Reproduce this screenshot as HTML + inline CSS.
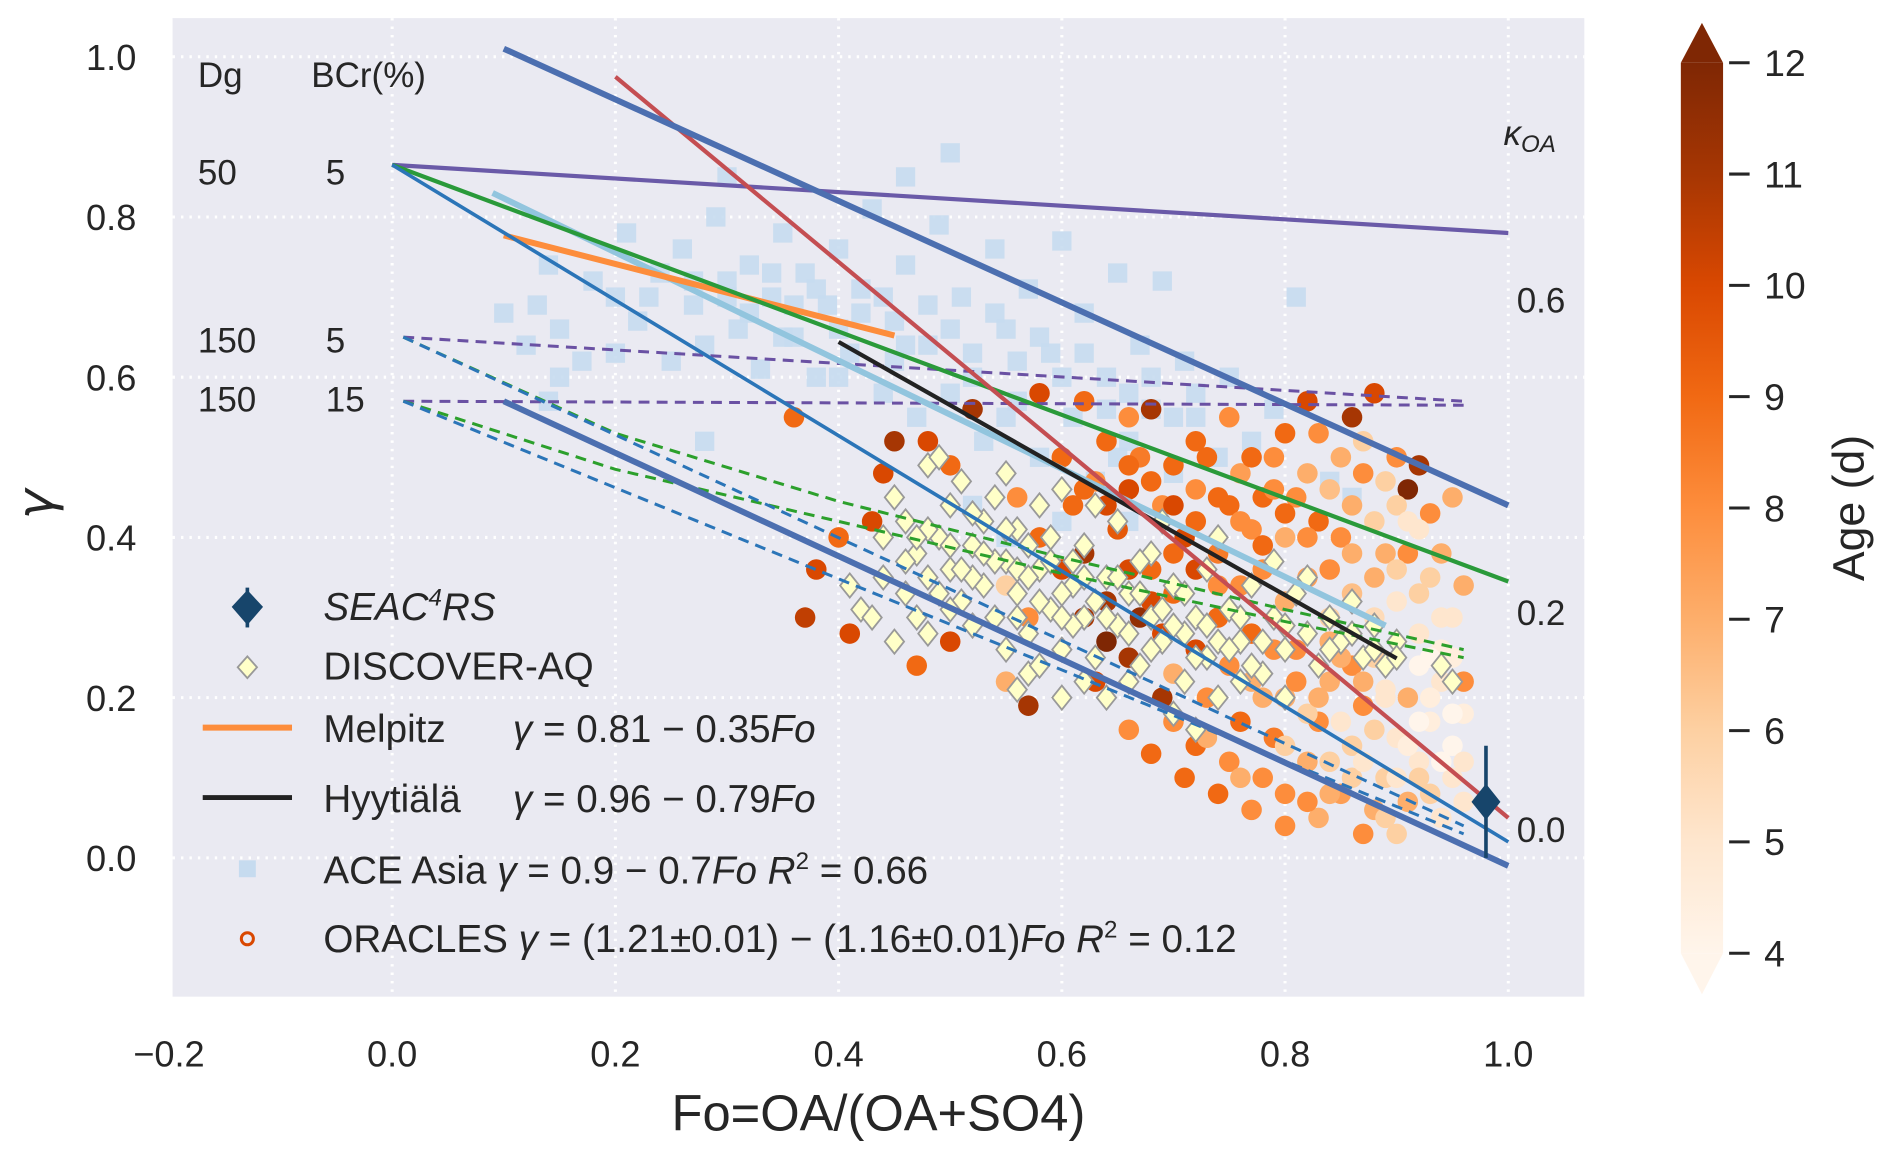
<!DOCTYPE html>
<html><head><meta charset="utf-8"><style>
html,body{margin:0;padding:0;background:#fff}
svg{display:block;font-family:"Liberation Sans",sans-serif}
</style></head><body>
<svg id="chart" width="1892" height="1158" viewBox="0 0 1568 959.7" xmlns="http://www.w3.org/2000/svg">
<defs>
<linearGradient id="cbg" x1="0" y1="1" x2="0" y2="0">
<stop offset="0" stop-color="#fff5eb"/><stop offset="0.125" stop-color="#fee6ce"/><stop offset="0.25" stop-color="#fdd0a2"/><stop offset="0.375" stop-color="#fdae6b"/><stop offset="0.5" stop-color="#fd8d3c"/><stop offset="0.625" stop-color="#f16913"/><stop offset="0.75" stop-color="#d94801"/><stop offset="0.875" stop-color="#a63603"/><stop offset="1" stop-color="#7f2704"/>
</linearGradient>
</defs>
<rect x="143" y="15" width="1170" height="811" fill="#eaeaf2"/>
<g id="grid"></g>
<g id="ace"></g><g id="oracles"></g><g id="discover"></g><g id="lines"></g>
<g id="xticks" font-size="30" fill="#262626" text-anchor="middle"></g>
<g id="yticks" font-size="30" fill="#262626" text-anchor="end"></g>
<text x="728" y="937" font-size="42" fill="#262626" text-anchor="middle">Fo=OA/(OA+SO4)</text>
<text x="44" y="418" font-size="42" fill="#262626" font-style="italic" text-anchor="middle" transform="rotate(-90 44 418)" font-family="DejaVu Sans, sans-serif">γ</text>
<g font-size="29" fill="#262626">
<text x="164" y="72">Dg</text><text x="258" y="72">BCr(%)</text>
<text x="164" y="153">50</text><text x="270" y="153">5</text>
<text x="164" y="292">150</text><text x="270" y="292">5</text>
<text x="164" y="341">150</text><text x="270" y="341">15</text>
</g>
<g font-size="29" fill="#262626">
<text x="1246" y="120" font-style="italic">κ<tspan font-size="20" dy="6">OA</tspan></text>
<text x="1257" y="259">0.6</text><text x="1257" y="518">0.2</text><text x="1257" y="698">0.0</text>
</g>
<g id="legend" font-size="32" fill="#262626">
<g><line x1="205" y1="487" x2="205" y2="520" stroke="#17456b" stroke-width="3"/><path d="M205 489 L218 503 L205 518 L192 503Z" fill="#17456b"/><text x="268" y="514" font-style="italic">SEAC<tspan font-size="20" dy="-12">4</tspan><tspan dy="12">RS</tspan></text></g>
<g><path d="M205 544 L213 553 L205 562 L197 553Z" fill="#ffffc8" stroke="#999" stroke-width="1.5"/><text x="268" y="563">DISCOVER-AQ</text></g>
<g><line x1="168" y1="603" x2="242" y2="603" stroke="#fd8d3c" stroke-width="5"/><text x="268" y="615">Melpitz</text><text x="425" y="615" font-style="italic">γ</text><text x="450" y="615">= 0.81 − 0.35<tspan font-style="italic">Fo</tspan></text></g>
<g><line x1="168" y1="661" x2="242" y2="661" stroke="#222" stroke-width="4"/><text x="268" y="673">Hyytiälä</text><text x="425" y="673" font-style="italic">γ</text><text x="450" y="673">= 0.96 − 0.79<tspan font-style="italic">Fo</tspan></text></g>
<g><rect x="198" y="713" width="14" height="14" fill="#c6dbef"/><text x="268" y="732">ACE Asia  <tspan font-style="italic">γ</tspan> = 0.9 − 0.7<tspan font-style="italic">Fo</tspan>  <tspan font-style="italic">R</tspan><tspan font-size="20" dy="-12">2</tspan><tspan dy="12"> = 0.66</tspan></text></g>
<g><circle cx="205" cy="778" r="5" fill="none" stroke="#d94801" stroke-width="2.5"/><text x="268" y="789">ORACLES <tspan font-style="italic">γ</tspan> = (1.21±0.01) − (1.16±0.01)<tspan font-style="italic">Fo</tspan>  <tspan font-style="italic">R</tspan><tspan font-size="20" dy="-12">2</tspan><tspan dy="12"> = 0.12</tspan></text></g>
</g>
<g>
<rect x="1393" y="52" width="35" height="738" fill="url(#cbg)"/>
<path d="M1393 52 L1410.5 19 L1428 52Z" fill="#7f2704"/>
<path d="M1393 790 L1410.5 824 L1428 790Z" fill="#fff5eb"/>
<g id="cbticks" font-size="31" fill="#262626"></g>
<text x="1545" y="421" font-size="37" fill="#262626" text-anchor="middle" transform="rotate(-90 1545 421)">Age (d)</text>
</g>
</svg>
<script>
const xTicks=[-0.2,0,0.2,0.4,0.6,0.8,1.0];
const yTicks=[0,0.2,0.4,0.6,0.8,1.0];
const cbTicks=[4,5,6,7,8,9,10,11,12];
const aceX=[0.1,0.12,0.13,0.14,0.15,0.17,0.18,0.2,0.21,0.22,0.24,0.25,0.26,0.27,0.28,0.29,0.3,0.31,0.32,0.33,0.34,0.35,0.36,0.37,0.38,0.39,0.4,0.41,0.42,0.43,0.44,0.45,0.46,0.47,0.48,0.49,0.5,0.51,0.52,0.53,0.54,0.55,0.56,0.57,0.58,0.59,0.6,0.61,0.62,0.63,0.64,0.65,0.66,0.67,0.68,0.69,0.7,0.71,0.72,0.74,0.75,0.77,0.79,0.81,0.84,0.86,0.46,0.3,0.2,0.15,0.28,0.14,0.52,0.55,0.6,0.66,
0.3,0.32,0.34,0.36,0.38,0.4,0.42,0.44,0.46,0.48,0.5,0.52,0.54,0.56,0.58,0.6,0.62,0.64,0.66,0.68,0.7,0.72,0.35,0.45,0.55,0.65,0.4,0.5,0.27,0.23];
const aceY=[0.68,0.64,0.69,0.74,0.66,0.62,0.72,0.7,0.78,0.67,0.73,0.62,0.76,0.69,0.64,0.8,0.72,0.66,0.74,0.61,0.7,0.78,0.65,0.73,0.6,0.69,0.76,0.63,0.71,0.81,0.58,0.67,0.74,0.55,0.64,0.79,0.88,0.7,0.6,0.52,0.76,0.66,0.57,0.71,0.5,0.63,0.77,0.55,0.68,0.47,0.6,0.73,0.52,0.64,0.56,0.72,0.48,0.62,0.55,0.5,0.6,0.52,0.56,0.7,0.47,0.45,0.85,0.85,0.63,0.6,0.52,0.57,0.44,0.4,0.42,0.42,
0.7,0.68,0.73,0.69,0.71,0.66,0.68,0.7,0.64,0.69,0.66,0.63,0.68,0.62,0.65,0.6,0.63,0.56,0.58,0.6,0.55,0.58,0.65,0.62,0.55,0.5,0.6,0.58,0.72,0.7];
const orX=[0.38,0.41,0.37,0.4,0.43,0.44,0.45,0.36,0.5,0.48,0.52,0.57,0.55,0.47,0.5,0.58,0.62,0.66,0.68,0.72,0.75,0.8,0.82,0.86,0.88,0.9,0.92,0.91,0.93,0.95,0.96,0.96,
0.6,0.61,0.62,0.63,0.64,0.65,0.66,0.67,0.68,0.69,0.7,0.71,0.72,0.73,0.74,0.75,0.76,0.77,0.78,0.79,0.8,0.81,0.82,0.83,0.84,0.85,0.86,0.87,0.88,0.89,0.9,0.91,0.92,0.93,0.94,0.95,
0.62,0.64,0.66,0.63,0.67,0.69,0.7,0.72,0.74,0.76,0.78,0.8,0.82,0.84,0.86,0.88,0.9,0.92,0.94,0.6,0.58,0.56,0.55,0.57,
0.7,0.72,0.73,0.75,0.76,0.77,0.78,0.79,0.8,0.81,0.82,0.83,0.84,0.85,0.86,0.87,0.88,0.89,0.9,0.91,0.92,0.93,0.94,0.95,0.96,0.95,0.93,0.91,0.88,0.86,0.84,0.8,0.77,0.74,0.71,0.68,0.66,0.69,0.7,0.83,0.87,0.9,0.94,0.96,0.92,0.89,0.86,0.82,
0.78,0.8,0.82,0.84,0.85,0.87,0.88,0.89,0.9,0.91,0.92,0.93,0.94,0.95,0.96,0.87,0.85,0.83,0.81,0.79,0.77,0.75,0.73,0.76,0.8,0.84,0.89,0.92,0.94,0.92,0.9,0.88,0.86,0.84,0.82,0.8,0.78,0.76,0.74,0.72,0.7,0.68,0.66,0.64,0.62,0.72,0.7,0.74,0.66,0.64,0.68,0.85,0.87,0.89,0.91,0.83,0.77,0.79,0.93,0.95];
const orY=[0.36,0.28,0.3,0.4,0.42,0.48,0.52,0.55,0.49,0.52,0.56,0.19,0.22,0.24,0.27,0.58,0.57,0.55,0.56,0.52,0.55,0.53,0.57,0.55,0.58,0.5,0.49,0.46,0.43,0.45,0.34,0.22,
0.5,0.44,0.38,0.47,0.52,0.41,0.46,0.5,0.36,0.44,0.49,0.4,0.46,0.5,0.38,0.44,0.48,0.41,0.45,0.5,0.4,0.45,0.48,0.42,0.46,0.4,0.44,0.48,0.42,0.38,0.44,0.38,0.41,0.35,0.38,0.3,
0.3,0.27,0.25,0.22,0.3,0.28,0.33,0.26,0.3,0.34,0.36,0.32,0.35,0.3,0.33,0.3,0.32,0.28,0.26,0.36,0.4,0.45,0.34,0.3,
0.17,0.14,0.2,0.12,0.17,0.22,0.1,0.15,0.2,0.26,0.12,0.17,0.22,0.08,0.14,0.19,0.25,0.1,0.15,0.2,0.12,0.17,0.22,0.14,0.18,0.1,0.08,0.07,0.06,0.24,0.27,0.08,0.06,0.08,0.1,0.13,0.16,0.2,0.23,0.05,0.03,0.03,0.05,0.07,0.24,0.21,0.1,0.07,
0.2,0.14,0.18,0.12,0.17,0.12,0.16,0.2,0.1,0.14,0.17,0.2,0.12,0.18,0.12,0.22,0.25,0.2,0.22,0.26,0.28,0.24,0.15,0.1,0.04,0.08,0.05,0.1,0.3,0.33,0.36,0.35,0.38,0.36,0.4,0.43,0.39,0.42,0.45,0.42,0.44,0.47,0.49,0.44,0.46,0.36,0.38,0.34,0.36,0.32,0.32,0.5,0.52,0.47,0.42,0.53,0.5,0.46,0.25,0.25];
const orAge=[10,10,10.5,9,10,10,11,9,9,10,11,11,7,9,10,10,9,8,11,9,8,9,10,11,10,8,11,12,8,7,7,8,
9,9,11,8,9,9.5,10,8.5,9,8,9,10,8,9,8.5,9,7.5,8,9,8,7,8,7,9,6.5,8,7,8,6,7,6,8,5,6,7,5,
11,12,11,10,11.5,10,9,10,9,8,8,7,7.5,6,6.5,5.5,5,5,4.5,10,9,8,6,8,
8,9,8,8,9,7,8,8.5,7,8,7,8,7,7.5,6,8,6,6,5,7,5,4.5,5,4,4.5,5,6,7,7,8,7,8,8,9,9,9,8,11,7,7,8,6,5,5,4,5,6,8,
7,6,6,6,5,5,6,5,5,4.5,4,4.5,4,4,5,7,7,7,8,8,9,8,7,7,8,7,6,6,5,6,6,7,7,8,8,9,9,8,9,9,10,9,9,10,9,10,9,8,10,11,10,7,6,6,5,8,9,8,4,4.5];
const dqX=[0.45,0.46,0.47,0.48,0.49,0.5,0.5,0.51,0.52,0.53,0.53,0.54,0.55,0.56,0.56,0.57,0.58,0.59,0.59,0.6,0.61,0.62,0.62,0.63,0.64,0.65,0.65,0.66,0.67,0.68,0.68,0.69,0.7,0.71,0.72,0.73,0.73,0.74,0.75,0.76,0.77,0.78,0.79,0.8,0.81,0.82,0.83,0.84,0.85,0.86,0.87,0.88,0.89,0.9,0.94,0.95,0.41,0.42,0.44,0.43,0.46,0.47,0.48,0.5,0.52,0.55,0.56,0.57,0.58,0.6,0.62,0.66,0.7,0.72,0.48,0.49,0.55,0.6,0.69,0.74,0.79,0.82,0.51,0.54,0.58,0.63,0.44,0.52,0.57,0.61,0.67,0.71,0.76,0.8,0.64,0.45,
0.46,0.48,0.5,0.52,0.54,0.56,0.58,0.6,0.62,0.64,0.66,0.68,0.7,0.72,0.74,0.76,0.78,0.8,0.84,0.86,0.88,0.9,0.53,0.55,0.57,0.59,0.61,0.63,0.65,0.67,0.69,0.71,0.73,0.75,0.77,0.49,0.51,0.47,0.56,0.6];
const dqY=[0.45,0.42,0.38,0.35,0.4,0.44,0.36,0.32,0.39,0.42,0.34,0.3,0.37,0.41,0.33,0.28,0.36,0.4,0.31,0.26,0.34,0.39,0.3,0.25,0.35,0.42,0.29,0.33,0.24,0.38,0.3,0.27,0.34,0.22,0.3,0.36,0.25,0.2,0.31,0.27,0.34,0.23,0.3,0.26,0.33,0.28,0.24,0.3,0.27,0.32,0.25,0.29,0.24,0.27,0.24,0.22,0.34,0.31,0.35,0.3,0.33,0.3,0.28,0.31,0.29,0.26,0.21,0.23,0.24,0.2,0.22,0.22,0.18,0.16,0.49,0.5,0.48,0.46,0.42,0.4,0.37,0.35,0.47,0.45,0.44,0.44,0.4,0.35,0.39,0.37,0.37,0.28,0.22,0.2,0.2,0.27,
0.37,0.41,0.39,0.43,0.37,0.36,0.32,0.33,0.35,0.3,0.28,0.26,0.29,0.25,0.27,0.3,0.27,0.29,0.26,0.28,0.26,0.25,0.38,0.41,0.35,0.37,0.29,0.32,0.35,0.33,0.31,0.33,0.29,0.26,0.24,0.33,0.36,0.4,0.3,0.3];
// line series: [x0,y0,x1,y1]
const lineThickUpper=[0.1,1.01,1.0,0.44];
const lineThickLower=[0.1,0.57,1.0,-0.01];
const linePurple=[0,0.865,1.0,0.78];
const lineGreen=[0,0.865,1.0,0.345];
const lineBlue=[0,0.865,1.0,0.02];
const lineRed=[0.2,0.975,1.0,0.05];
const lineAce=[0.09,0.83,0.89,0.29];
const lineMelpitz=[0.1,0.777,0.45,0.652];
const lineHyytiala=[0.4,0.644,0.9,0.249];
const dashPurpleA=[0.01,0.65,0.96,0.57];
const dashPurpleB=[0.01,0.57,0.96,0.565];
const dashBlueA=[0.01,0.65,0.96,0.04];
const dashBlueB=[0.01,0.57,0.96,0.03];
const dashGreenAx=[0.01,0.2,0.4,0.6,0.8,0.96];
const dashGreenAy=[0.65,0.53,0.445,0.375,0.31,0.26];
const dashGreenBy=[0.57,0.485,0.42,0.355,0.295,0.25];
const seacX=[0.98], seacY=[0.07], seacErr=[0.07];

const X=v=>325+(v)*925;
const Y=v=>711-v*664;
const CB=v=>790-(v-4)*92.25;
const NS="http://www.w3.org/2000/svg";
function mk(parent,tag,attrs){const e=document.createElementNS(NS,tag);for(const k in attrs)e.setAttribute(k,attrs[k]);document.getElementById(parent).appendChild(e);return e;}
const stops=["#fff5eb","#fee6ce","#fdd0a2","#fdae6b","#fd8d3c","#f16913","#d94801","#a63603","#7f2704"];
function hex(c){return [1,3,5].map(i=>parseInt(c.substr(i,2),16));}
function cmap(a){let t=Math.max(0,Math.min(8,a-4));let i=Math.min(7,Math.floor(t));let f=t-i;const A=hex(stops[i]),B=hex(stops[i+1]);return "rgb("+A.map((v,k)=>Math.round(v+(B[k]-v)*f)).join(",")+")";}

xTicks.forEach(t=>{
const g=mk('grid','line',{x1:X(t),x2:X(t),y1:15,y2:826,stroke:'#fff',"stroke-width":2.5,"stroke-dasharray":"2 5"});


const e=mk('xticks','text',{x:X(t),y:884});e.textContent=(t<0?"−":"")+Math.abs(t).toFixed(1);


});
yTicks.forEach(t=>{
const g=mk('grid','line',{x1:143,x2:1313,y1:Y(t),y2:Y(t),stroke:'#fff',"stroke-width":2.5,"stroke-dasharray":"2 5"});


const e=mk('yticks','text',{x:113,y:Y(t)+11});e.textContent=t.toFixed(1);


});
cbTicks.forEach(t=>{
const l=mk('cbticks','line',{x1:1433,x2:1450,y1:CB(t),y2:CB(t),stroke:'#262626',"stroke-width":2.5});


const e=mk('cbticks','text',{x:1462,y:CB(t)+11});e.textContent=t;


});
aceX.forEach((x,i)=>{
const r=mk('ace','rect',{x:X(x)-8,y:Y(aceY[i])-8,width:16,height:16,fill:'#c6dbef',opacity:0.9});


});
orX.forEach((x,i)=>{
const c=mk('oracles','circle',{cx:X(x),cy:Y(orY[i]),r:8.5,fill:cmap(orAge[i])});


});
dqX.forEach((x,i)=>{
const cx=X(x),cy=Y(dqY[i]);
const d=mk('discover','path',{d:`M${cx} ${cy-10}L${cx+8} ${cy}L${cx} ${cy+10}L${cx-8} ${cy}Z`,fill:'#ffffc8',stroke:'#999',"stroke-width":1.5});


});
function seg(arr,color,w,dash,name){
const l=mk('lines','line',{x1:X(arr[0]),y1:Y(arr[1]),x2:X(arr[2]),y2:Y(arr[3]),stroke:color,"stroke-width":w});
if(dash)l.setAttribute('stroke-dasharray',dash);


}
function poly(xs,ys,color,w,dash,name){
const p=mk('lines','polyline',{points:xs.map((x,i)=>X(x)+","+Y(ys[i])).join(" "),fill:'none',stroke:color,"stroke-width":w,"stroke-dasharray":dash});


}
seg(dashPurpleA,'#6a51a3',2.5,'9 6','purple-dashed-line-a');
seg(dashPurpleB,'#6a51a3',2.5,'9 6','purple-dashed-line-b');
poly(dashGreenAx,dashGreenAy,'#2ca02c',2.5,'9 6','green-dashed-line-a');
poly(dashGreenAx,dashGreenBy,'#2ca02c',2.5,'9 6','green-dashed-line-b');
seg(dashBlueA,'#2b75b8',2.5,'9 6','blue-dashed-line-a');
seg(dashBlueB,'#2b75b8',2.5,'9 6','blue-dashed-line-b');
seg(lineAce,'#92c5de',5,null,'ace-asia-fit-line');
seg(lineMelpitz,'#fd8d3c',5,null,'melpitz-fit-line');
seg(lineHyytiala,'#222222',3.5,null,'hyytiala-fit-line');
seg(linePurple,'#6a5aa8',3.5,null,'purple-line');
seg(lineGreen,'#2a9a3a',3.5,null,'green-line');
seg(lineBlue,'#2b75b8',3,null,'blue-line');
seg(lineRed,'#c44e52',3.5,null,'red-line');
seg(lineThickUpper,'#4c6fb0',5,null,'thick-upper-line');
seg(lineThickLower,'#4c6fb0',5,null,'thick-lower-line');
seacX.forEach((x,i)=>{
const cx=X(x),cy=Y(seacY[i]);
const e=mk('lines','line',{x1:cx,x2:cx,y1:Y(seacY[i]+seacErr[i]),y2:Y(seacY[i]-seacErr[i]),stroke:'#17456b',"stroke-width":3});


const d=mk('lines','path',{d:`M${cx} ${cy-15}L${cx+12} ${cy}L${cx} ${cy+15}L${cx-12} ${cy}Z`,fill:'#17456b'});


});
</script>
</body></html>
